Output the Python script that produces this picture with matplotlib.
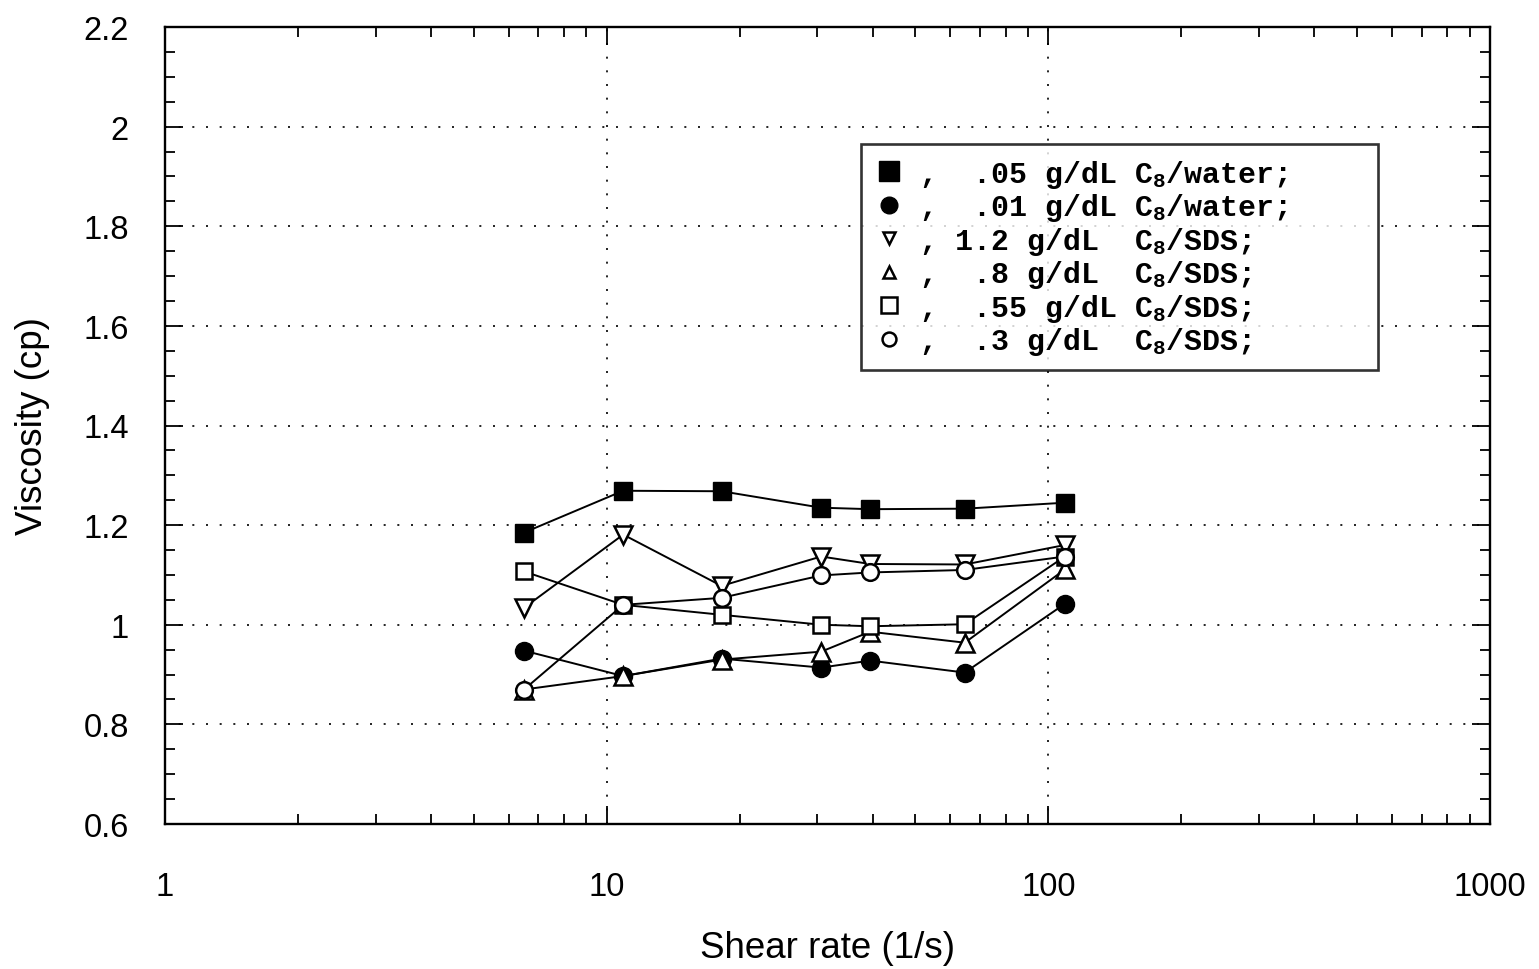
import matplotlib
matplotlib.use("Agg")
import matplotlib.pyplot as plt
from matplotlib.lines import Line2D
from matplotlib.ticker import FixedLocator, NullFormatter, LogLocator

plt.rcParams["font.family"] = ["Liberation Sans", "DejaVu Sans"]
plt.rcParams["mathtext.fontset"] = "custom"
plt.rcParams["mathtext.rm"] = "Liberation Mono:bold"
plt.rcParams["mathtext.it"] = "Liberation Mono:bold"
plt.rcParams["mathtext.bf"] = "Liberation Mono:bold"

# Shear rates (1/s)
shear_rate = [6.5, 10.9, 18.2, 30.6, 39.5, 64.7, 109]

# Viscosity (cp) for each solution
visc_c8_water_05 = [1.185, 1.269, 1.268, 1.235, 1.232, 1.233, 1.245]
visc_c8_water_01 = [0.948, 0.897, 0.932, 0.914, 0.928, 0.904, 1.042]
visc_sds_12 = [1.034, 1.181, 1.078, 1.137, 1.122, 1.121, 1.160]
visc_sds_08 = [0.870, 0.897, 0.930, 0.946, 0.986, 0.964, 1.111]
visc_sds_055 = [1.107, 1.040, 1.020, 1.000, 0.997, 1.001, 1.137]
visc_sds_03 = [0.870, 1.040, 1.054, 1.099, 1.105, 1.110, 1.137]

legend_labels = [
    r",  .05 g/dL C$_8$/water;     ",
    r",  .01 g/dL C$_8$/water;",
    r", 1.2 g/dL  C$_8$/SDS;",
    r",  .8 g/dL  C$_8$/SDS;",
    r",  .55 g/dL C$_8$/SDS;",
    r",  .3 g/dL  C$_8$/SDS;",
]

x_ticks = [1, 10, 100, 1000]
x_tick_labels = ["1", "10", "100", "1000"]
y_ticks = [0.6, 0.8, 1.0, 1.2, 1.4, 1.6, 1.8, 2.0, 2.2]
y_tick_labels = ["0.6", "0.8", "1", "1.2", "1.4", "1.6", "1.8", "2", "2.2"]

fig = plt.figure(figsize=(15.39, 9.70), dpi=100)
ax = fig.add_axes([165 / 1539, (970 - 825) / 970, 1325 / 1539, 797 / 970])

series = [
    (visc_c8_water_05, dict(marker="s", mfc="black", mec="black", ms=13)),
    (visc_c8_water_01, dict(marker="o", mfc="black", mec="black", ms=13)),
    (visc_sds_12, dict(marker="v", mfc="white", mec="black", ms=13, mew=1.8)),
    (visc_sds_08, dict(marker="^", mfc="white", mec="black", ms=13, mew=1.8)),
    (visc_sds_055, dict(marker="s", mfc="white", mec="black", ms=12, mew=1.8)),
    (visc_sds_03, dict(marker="o", mfc="white", mec="black", ms=12, mew=1.8)),
]
for vals, style in series:
    ax.plot(shear_rate, vals, color="black", lw=1.4, zorder=3, **style)

ax.set_xscale("log")
ax.set_xlim(1, 1000)
ax.set_ylim(0.6, 2.2)

ax.xaxis.set_major_locator(FixedLocator(x_ticks))
ax.set_xticklabels(x_tick_labels)
ax.xaxis.set_minor_locator(LogLocator(base=10, subs=range(2, 10)))
ax.xaxis.set_minor_formatter(NullFormatter())
ax.yaxis.set_major_locator(FixedLocator(y_ticks))
ax.set_yticklabels(y_tick_labels)
ax.yaxis.set_minor_locator(FixedLocator([0.6 + 0.05 * i for i in range(33)]))

ax.tick_params(which="both", direction="in", top=True, right=True,
               color="black", width=1.3)
ax.tick_params(which="major", length=13, labelsize=23.5)
ax.tick_params(which="minor", length=7)
ax.tick_params(axis="x", which="major", pad=34)
ax.tick_params(axis="y", which="major", pad=26)

for spine in ax.spines.values():
    spine.set_linewidth(1.7)
    spine.set_color("black")

ax.grid(True, which="major", color="black", linestyle=(0, (1.2, 7)), lw=1.2)

ax.set_xlabel("Shear rate (1/s)", fontsize=26.5, labelpad=20)
ax.set_ylabel("Viscosity (cp)", fontsize=26.5, labelpad=24)

handles = [
    Line2D([], [], linestyle="none", marker="s", mfc="black", mec="black", ms=15),
    Line2D([], [], linestyle="none", marker="o", mfc="black", mec="black", ms=12),
    Line2D([], [], linestyle="none", marker="v", mfc="white", mec="black", ms=9, mew=1.8),
    Line2D([], [], linestyle="none", marker="^", mfc="white", mec="black", ms=9, mew=1.8),
    Line2D([], [], linestyle="none", marker="s", mfc="white", mec="black", ms=12, mew=1.8),
    Line2D([], [], linestyle="none", marker="o", mfc="white", mec="black", ms=10, mew=1.8),
]
leg = ax.legend(handles, legend_labels, loc="upper left",
                bbox_to_anchor=(0.525, 0.853),
                prop={"family": "Liberation Mono", "weight": "bold", "size": 21.5},
                frameon=True, fancybox=False, edgecolor="black",
                handlelength=1.0, handletextpad=0.5, labelspacing=0.05,
                borderpad=0.45, borderaxespad=0)
leg.get_frame().set_linewidth(1.9)

fig.savefig("out.png", dpi=100, facecolor="white")
